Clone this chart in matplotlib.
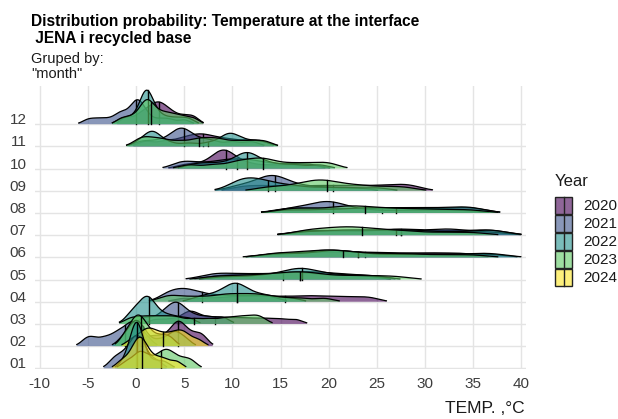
import numpy as np
import matplotlib
matplotlib.use("Agg")
import matplotlib.pyplot as plt
from matplotlib.patches import Rectangle
from matplotlib.lines import Line2D

# ---------------- data ----------------
months = ["01", "02", "03", "04", "05", "06", "07", "08", "09", "10", "11", "12"]
years = [2020, 2021, 2022, 2023, 2024]
year_colors = ["#440154", "#3B528B", "#21908C", "#5DC863", "#FDE725"]
x_ticks = [-10, -5, 0, 5, 10, 15, 20, 25, 30, 35, 40]

jan = {2021: [-2.4, -1.7, -1.1, -0.6, -0.3, 0.0, 0.2, 0.4, 0.7, 1.2, 2.2],
       2022: [-1.2, -0.6, -0.3, -0.1, 0.0, 0.05, 0.1, 0.2, 0.3, 0.5, 1.0, 2.0, 3.0],
       2023: [-1.0, 0.0, 0.4, 0.8, 1.5, 2.3, 2.8, 3.2, 3.6, 4.2, 5.0, 5.8],
       2024: [-1.5, -0.6, -0.1, 0.2, 0.4, 0.6, 0.9, 1.4, 2.2, 3.0, 4.2]}
feb = {2020: [1.0, 2.0, 3.0, 3.8, 4.2, 4.5, 4.9, 5.5, 6.3, 7.0],
       2021: [-5.2, -4.5, -3.5, -2.7, -2.0, -1.6, -1.1, -0.7, -0.4, -0.2, 0.1, 0.6, 1.2],
       2022: [-1.5, -0.8, -0.4, -0.1, 0.1, 0.3, 0.7, 1.3, 2.5, 3.5, 4.0, 4.4, 5.2],
       2023: [-1.2, -0.5, -0.1, 0.2, 0.5, 0.9, 1.5, 2.5, 3.5],
       2024: [-0.5, 0.4, 0.9, 1.3, 1.7, 2.2, 2.8, 3.4, 4.0, 4.5, 4.9, 5.5, 6.5]}
mar = {2020: [2.0, 3.5, 4.8, 5.4, 5.8, 6.3, 7.2, 8.2, 9.2, 10.3, 11.4, 12.6, 13.8, 15.1,
              16.6],
       2021: [1.0, 2.5, 3.3, 3.8, 4.2, 4.6, 5.2, 6.2, 7.5, 9.0],
       2022: [-0.6, -0.2, 0.4, 0.8, 1.1, 1.2, 1.4, 1.8, 2.4, 3.2, 4.2, 5.5],
       2023: [-0.6, 0.5, 1.5, 2.5, 3.5, 4.5, 6.0, 7.5, 9.0, 10.2, 11.2, 12.2, 13.0]}
apr = {2020: [5.0, 7.5, 9.5, 11.0, 12.5, 14.0, 15.5, 17.0, 18.3, 19.7, 21.2, 22.8, 24.4],
       2021: [3.0, 3.8, 4.5, 5.2, 5.8, 6.8, 8.0, 9.5, 11.0, 12.5, 14.0],
       2022: [6.5, 7.8, 8.8, 9.6, 10.0, 10.3, 10.6, 11.0, 11.8, 12.8, 14.0, 16.0],
       2023: [3.0, 4.0, 5.5, 7.0, 8.5, 9.5, 10.5, 11.5, 12.5, 13.5, 15.0, 17.0, 19.5]}
may = {2020: [8.5, 11.0, 13.5, 15.5, 17.0, 18.5, 20.0, 22.0, 24.5],
       2021: [7.6, 8.5, 10.0, 11.5, 13.0, 14.5, 16.0, 17.0, 18.0, 20.0, 22.0, 24.0],
       2022: [9.0, 12.0, 14.0, 15.5, 16.5, 17.0, 17.5, 18.0, 19.5, 21.0, 23.0, 25.0],
       2023: [8.0, 10.0, 12.0, 13.5, 15.0, 16.0, 17.0, 18.0, 19.0, 21.0, 23.0, 25.0, 27.2]}
jun = {2020: [14.5, 17.5, 20.0, 22.5, 25.0, 28.0, 31.0, 34.0],
       2021: [14.0, 17.0, 19.0, 20.0, 21.0, 23.0, 25.0, 28.0, 31.0, 34.0, 37.0],
       2022: [14.0, 16.0, 18.5, 20.0, 21.0, 22.0, 24.0, 27.0, 30.0, 33.0, 35.5, 37.4],
       2023: [13.7, 15.5, 17.0, 18.5, 19.5, 20.5, 21.5, 23.0, 25.0, 27.0, 29.0, 32.0, 35.0]}
jul = {2020: [17.3, 20.0, 23.0, 26.0, 29.0, 32.0, 35.0, 37.4],
       2021: [17.3, 19.0, 21.0, 23.0, 25.0, 26.8, 27.5, 29.0, 31.0, 32.3, 33.0, 35.0, 37.4],
       2022: [17.3, 20.0, 22.0, 24.0, 26.0, 28.0, 30.0, 33.0, 36.0, 37.4],
       2023: [17.3, 18.5, 20.0, 21.0, 22.0, 23.0, 24.0, 25.5, 27.0, 29.0, 32.0, 35.0]}
aug = {2020: [15.6, 18.0, 21.0, 24.0, 27.0, 30.0, 33.0, 35.2],
       2021: [15.6, 17.0, 18.6, 19.3, 19.8, 20.2, 20.8, 22.0, 24.5, 28.0, 31.0, 34.0],
       2022: [15.6, 19.0, 22.0, 24.0, 26.0, 28.0, 30.0, 32.0, 34.0, 35.2],
       2023: [15.6, 17.0, 19.0, 21.0, 22.0, 23.0, 24.5, 26.0, 28.0, 30.0, 32.5, 35.0]}
sep = {2020: [11.0, 13.0, 15.0, 17.5, 19.5, 21.5, 23.5, 25.5, 27.3, 28.7],
       2021: [10.3, 11.5, 12.6, 13.3, 13.8, 14.1, 14.4, 14.8, 15.5, 16.5, 18.0, 20.0, 23.0],
       2022: [10.3, 10.8, 11.3, 12.0, 12.6, 13.3, 14.2, 15.5, 17.0, 19.5, 22.0, 25.0],
       2023: [13.5, 15.5, 17.0, 18.0, 18.8, 19.4, 20.2, 21.2, 22.5, 24.0, 26.0, 28.0]}
octo = {2020: [5.0, 6.5, 7.8, 8.5, 8.8, 9.0, 9.2, 9.5, 10.0, 10.8, 12.0, 14.0, 16.0, 18.5],
        2021: [4.4, 5.5, 7.0, 8.5, 9.5, 10.5, 11.5, 12.5, 14.0, 16.0, 18.0],
        2022: [6.0, 7.5, 9.0, 10.3, 11.0, 11.4, 11.7, 12.2, 13.0, 14.5, 16.5, 19.0],
        2023: [5.5, 8.0, 10.0, 11.0, 12.0, 12.8, 13.5, 14.5, 16.0, 17.5, 19.0, 20.3]}
nov = {2020: [1.0, 3.0, 4.5, 5.5, 6.3, 7.0, 7.8, 8.8, 10.0, 11.5, 13.0],
       2021: [0.5, 2.0, 3.3, 4.0, 4.5, 4.8, 5.2, 5.8, 6.8, 8.0, 10.0, 12.0],
       2022: [0.3, 1.2, 1.5, 1.7, 1.9, 2.3, 3.5, 5.5, 7.5, 8.8, 9.4, 9.7, 10.0, 10.5, 11.3,
              12.3, 13.4],
       2023: [0.3, 1.0, 2.0, 3.0, 4.5, 6.0, 7.0, 8.0, 9.0, 10.5, 12.0, 13.4]}
dec = {2020: [-1.0, 0.3, 1.0, 1.6, 2.0, 2.4, 2.8, 3.3, 4.0, 5.0, 6.0],
       2021: [-5.0, -4.0, -3.0, -2.0, -1.6, -1.2, -0.6, -0.2, 0.0, 0.1, 0.3, 0.5, 0.8, 1.4,
              2.5, 3.5, 5.0],
       2022: [-1.5, -0.5, 0.3, 0.7, 0.9, 1.0, 1.1, 1.2, 1.3, 1.6, 2.0, 2.6, 3.5, 4.5, 5.5],
       2023: [-1.5, -0.5, 0.3, 0.8, 1.0, 1.2, 1.4, 1.8, 2.3, 2.9, 3.5, 4.2, 5.0, 6.0]}

month_data = [jan, feb, mar, apr, may, jun, jul, aug, sep, octo, nov, dec]
bandwidths = [0.6, 0.6, 0.7, 1.0, 1.5, 1.6, 1.6, 1.6, 1.3, 1.0, 0.8, 0.6]

# ---------------- figure ----------------
W, H = 618, 419
fig = plt.figure(figsize=(W / 100, H / 100), dpi=100)
ax = fig.add_axes([35 / W, 1 - 369 / H, (526 - 35) / W, (369 - 86) / H])

FONT = "Liberation Sans"


def kde(samples, bw, grid):
    s = np.asarray(samples)[:, None]
    return np.exp(-0.5 * ((grid[None, :] - s) / bw) ** 2).sum(0) / (len(samples) * bw * np.sqrt(2 * np.pi))


ridges = []
for mi, data in enumerate(month_data):
    bw = bandwidths[mi]
    for yr, samples in data.items():
        grid = np.linspace(min(samples) - 1.6 * bw, max(samples) + 1.6 * bw, 500)
        d = kde(samples, bw, grid)
        med = float(np.median(samples))
        dm = float(kde(samples, bw, np.array([med]))[0])
        ridges.append((mi, yr, grid, d, med, dm))

dmax = max(r[3].max() for r in ridges)
scale = 2.07

for mi, yr, grid, d, med, dm in ridges:
    base = mi + 1
    yi = years.index(yr)
    z = (12 - mi) * 10 + yi
    c = year_colors[yi]
    top = base + d / dmax * scale
    ax.fill_between(grid, base, top, facecolor=c, alpha=0.6, lw=0, zorder=z)
    ax.plot(grid, top, color="black", lw=0.9, zorder=z + 0.5)
    ax.plot([med, med], [base, base + dm / dmax * scale], color="black", lw=1.0, zorder=z + 0.5)

ax.set_xlim(-10.5, 40.5)
ax.set_ylim(0.97, 13.72)
ax.set_xticks(x_ticks)
ax.set_xticklabels([str(t) for t in x_ticks])
ax.set_yticks(range(1, 13))
ax.set_yticklabels(months, va="baseline")
for s in ax.spines.values():
    s.set_visible(False)
ax.tick_params(length=0, labelsize=11, labelcolor="#3d3d3d", pad=6)
for lab in ax.get_xticklabels() + ax.get_yticklabels():
    lab.set_fontfamily(FONT)
ax.grid(True, color="#e4e4e4", lw=1.0, zorder=0)
ax.set_axisbelow(True)

# titles
fig.text(31 / W, 1 - 26 / H, "Distribution probability: Temperature at the interface",
         fontsize=11.2, fontweight="bold", fontfamily=FONT, va="baseline", ha="left")
fig.text(31 / W, 1 - 42.7 / H, " JENA i recycled base",
         fontsize=11.2, fontweight="bold", fontfamily=FONT, va="baseline", ha="left")
fig.text(31 / W, 1 - 63.3 / H, "Gruped by:", fontsize=10.5, fontfamily=FONT,
         va="baseline", ha="left", color="#1a1a1a")
fig.text(31 / W, 1 - 77.5 / H, '"month"', fontsize=10.5, fontfamily=FONT,
         va="baseline", ha="left", color="#1a1a1a")
fig.text(525 / W, 1 - 408 / H, "TEMP. ,°C", fontsize=12.5, fontfamily=FONT,
         va="center", ha="right", color="#1a1a1a")

# legend
fig.text(555 / W, 1 - 181 / H, "Year", fontsize=12, fontfamily=FONT, va="center", ha="left",
         color="#1a1a1a")
for i, (yr, c) in enumerate(zip(years, year_colors)):
    top_px = 197 + i * 18
    r = Rectangle((555 / W, 1 - (top_px + 17) / H), 17 / W, 17 / H, transform=fig.transFigure,
                  facecolor=c, alpha=0.6, edgecolor="none")
    fig.add_artist(r)
    r2 = Rectangle((555 / W, 1 - (top_px + 17) / H), 17 / W, 17 / H, transform=fig.transFigure,
                   facecolor="none", edgecolor="#222222", lw=1.0)
    fig.add_artist(r2)
    fig.add_artist(Line2D([563.5 / W, 563.5 / W], [1 - (top_px + 17) / H, 1 - top_px / H],
                          transform=fig.transFigure, color="#222222", lw=1.0))
    fig.text(583 / W, 1 - (top_px + 8.5) / H, str(yr), fontsize=11, fontfamily=FONT,
             va="center", ha="left", color="#1a1a1a")

fig.savefig("out.png", dpi=100)
